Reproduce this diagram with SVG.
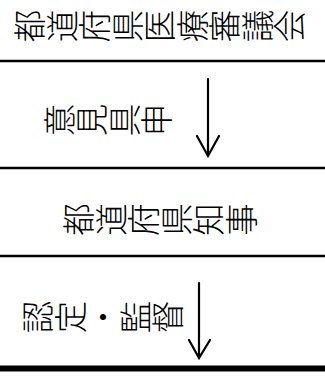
<svg xmlns="http://www.w3.org/2000/svg" width="325" height="376" viewBox="0 0 325 376">
<style>
.t{font-family:"Noto Sans CJK JP","Noto Sans CJK SC",sans-serif;font-size:32.5px;font-weight:300;fill:#000;writing-mode:vertical-rl;text-anchor:middle}
.sep{stroke:#000;stroke-width:2.5;fill:none}
.arr{stroke:#000;stroke-width:2.2;fill:none;stroke-linecap:round;stroke-linejoin:miter}
</style>
<rect width="325" height="376" fill="#fff"/>
<g id="n1"><text class="t" transform="translate(160,26) rotate(-90)" x="0" y="0">都道府県医療審議会</text></g>
<g id="n2"><text class="t" transform="translate(108,120) rotate(-90)" x="0" y="0">意見具申</text></g>
<g id="n3"><text class="t" transform="translate(160,219.5) rotate(-90)" x="0" y="0">都道府県知事</text></g>
<g id="n4"><text class="t" transform="translate(103,317) rotate(-90)" x="0" y="0">認定・監督</text></g>
<g id="connectors">
<line class="sep" x1="0" y1="61" x2="325" y2="61"/>
<line class="sep" x1="0" y1="168" x2="325" y2="168"/>
<line class="sep" x1="0" y1="256" x2="325" y2="256"/>
<line x1="0" y1="368.5" x2="325" y2="368.5" stroke="#000" stroke-width="6"/>
<path class="arr" d="M208,79 V155 M197,136 L208,156 L219,136"/>
<path class="arr" d="M199,283 V357 M189,340 L199,358 L210,340"/>
</g>
</svg>
